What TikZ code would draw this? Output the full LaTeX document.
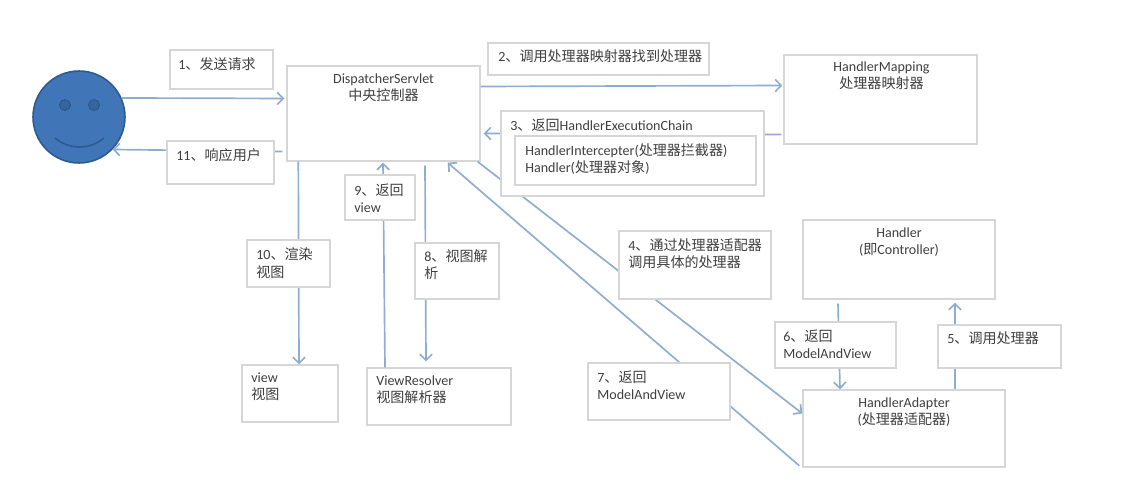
\documentclass[tikz,border=0pt]{standalone}
\usepackage{fontspec}
\setmainfont{Carlito}
\newfontfamily\cjk{Noto Sans CJK SC}
\newcommand{\zh}[1]{{\cjk #1}}
\usetikzlibrary{arrows.meta}
\definecolor{flowblue}{HTML}{8FADCF}
\definecolor{boxgray}{HTML}{D6D6D6}
\definecolor{txtgray}{HTML}{404040}
\definecolor{faceblue}{HTML}{4075B8}
\definecolor{faceedge}{HTML}{2C5B90}
\definecolor{eyeblue}{HTML}{35659F}

\begin{document}
\begin{tikzpicture}[x=0.02cm, y=-0.02cm, >={Straight Barb[length=3.4pt,width=7pt]}]
  % Styles
  \tikzstyle{mainbox}=[draw=boxgray, fill=white, line width=0.8pt, inner sep=0pt]
  \tikzstyle{labbox}=[draw=boxgray, fill=white, line width=0.8pt, inner sep=0pt]
  \tikzstyle{wh}=[minimum width=#1*0.02cm]
  \tikzstyle{ht}=[minimum height=#1*0.02cm]
  \tikzstyle{flow}=[->, draw=flowblue, line width=0.95pt]
  \tikzstyle{lab}=[anchor=west, align=left, inner sep=0pt, text=txtgray, font=\fontsize{8}{9.9}\selectfont]
  \tikzstyle{title}=[align=center, inner sep=0pt, text=txtgray, font=\fontsize{8}{9.9}\selectfont]

  \useasboundingbox (0,0) rectangle (1148,489);

  % User
  \node[circle, draw=faceedge, fill=faceblue, line width=0.9pt, minimum size=1.84cm, inner sep=0pt] (user) at (79,117) {};
  \node[circle, draw=eyeblue!80!black, fill=eyeblue, minimum size=0.22cm, inner sep=0pt] (eye_l) at (65,105) {};
  \node[circle, draw=eyeblue!80!black, fill=eyeblue, minimum size=0.22cm, inner sep=0pt] (eye_r) at (94,105) {};
  \draw[faceedge, line width=0.9pt] ([shift={(-24,21)}]user.center) .. controls ([shift={(-10,33)}]user.center) and ([shift={(11,33)}]user.center) .. ([shift={(25,21)}]user.center);

  % Main boxes
  \node[mainbox, wh=193, ht=95] (disp) at (383.5,113.5) {};
  \node[mainbox, wh=193, ht=89] (hmap) at (880.5,99.5) {};
  \node[mainbox, wh=192, ht=79] (hand) at (899,259.5) {};
  \node[mainbox, wh=202, ht=77] (adap) at (904,428.5) {};
  \node[mainbox, wh=96, ht=57] (view) at (290,393.5) {};
  \node[mainbox, wh=144, ht=57] (vres) at (439,396.5) {};

  % Connectors
  \draw[flow] (user.24) -- ([shift={(-2,-15)}]disp.west);
  \draw[flow] ([shift={(-4,38)}]disp.west) -- (user.-44);
  \draw[flow] ([shift={(0,-27)}]disp.east) -- ([shift={(-1,-14)}]hmap.west);
  \draw[flow] ([shift={(-2,35)}]hmap.west) -- ([shift={(3,20)}]disp.east);
  \draw[flow] ([shift={(-3,0)}]disp.south east) -- ([shift={(0,-15)}]adap.west);
  \draw[flow] ([shift={(-3,-2)}]adap.south west) -- ([shift={(-33,1)}]disp.south east);
  \draw[flow] ([shift={(51,0)}]adap.north) -- ([shift={(56,3)}]hand.south);
  \draw[flow] ([shift={(-61,4)}]hand.south) -- ([shift={(-64,0)}]adap.north);
  \draw[flow] ([shift={(41.5,4)}]disp.south) -- ([shift={(-13,-6)}]vres.north);
  \draw[flow] ([shift={(-54,0)}]vres.north) -- ([shift={(-0.5,1)}]disp.south);
  \draw[flow] ([shift={(12,0)}]disp.south west) -- ([shift={(9,0)}]view.north);

  % Label boxes
  \node[labbox, wh=103, ht=39] (b_1) at (221.5,69.5) {};
  \node[labbox, wh=107, ht=43] (b_11) at (220.5,162.5) {};
  \node[labbox, wh=221, ht=32] (b_2) at (598.5,59) {};
  \node[labbox, wh=263, ht=85] (b_3) at (632.5,153.5) {};
  \node[labbox, wh=241, ht=49] (b_3i) at (635.5,160.5) {};
  \node[labbox, wh=152, ht=68] (b_4) at (695,265) {};
  \node[labbox, wh=123, ht=43] (b_5) at (999.5,346.5) {};
  \node[labbox, wh=121, ht=46] (b_6) at (835.5,345) {};
  \node[labbox, wh=142, ht=57] (b_7) at (659,391.5) {};
  \node[labbox, wh=84, ht=56] (b_8) at (457,271) {};
  \node[labbox, wh=70, ht=45] (b_9) at (380,197.5) {};
  \node[labbox, wh=83, ht=47] (b_10) at (288.5,263.5) {};

  % Texts
  \node[title] (t_disp) at (383.5,87.5) {DispatcherServlet\\\zh{中央控制器}};
  \node[title] (t_hmap) at (881.5,76) {HandlerMapping\\\zh{处理器映射器}};
  \node[title] (t_hand) at (899,242) {Handler\\(\zh{即}Controller)};
  \node[title] (t_adap) at (904,412) {HandlerAdapter\\(\zh{处理器适配器})};
  \node[lab] (t_view) at (251,387) {view\\\zh{视图}};
  \node[lab] (t_vres) at (376,389.5) {ViewResolver\\\zh{视图解析器}};
  \node[lab] (t_1) at (178,64) {1\zh{、发送请求}};
  \node[lab] (t_11) at (176,155) {11\zh{、响应用户}};
  \node[lab] (t_2) at (498,56) {2\zh{、调用处理器映射器找到处理器}};
  \node[lab] (t_3) at (510,125) {3\zh{、返回}HandlerExecutionChain};
  \node[lab] (t_3i) at (525,159) {HandlerIntercepter(\zh{处理器拦截器})\\Handler(\zh{处理器对象})};
  \node[lab] (t_4) at (628,253.5) {4\zh{、通过处理器适配器}\\\zh{调用具体的处理器}};
  \node[lab] (t_5) at (947,338) {5\zh{、调用处理器}};
  \node[lab] (t_6) at (783,344.5) {6\zh{、返回}\\ModelAndView};
  \node[lab] (t_7) at (597,385) {7\zh{、返回}\\ModelAndView};
  \node[lab] (t_8) at (424,264.5) {8\zh{、视图解}\\\zh{析}};
  \node[lab] (t_9) at (354,198) {9\zh{、返回}\\view};
  \node[lab] (t_10) at (256,263) {10\zh{、渲染}\\\zh{视图}};
\end{tikzpicture}
\end{document}
